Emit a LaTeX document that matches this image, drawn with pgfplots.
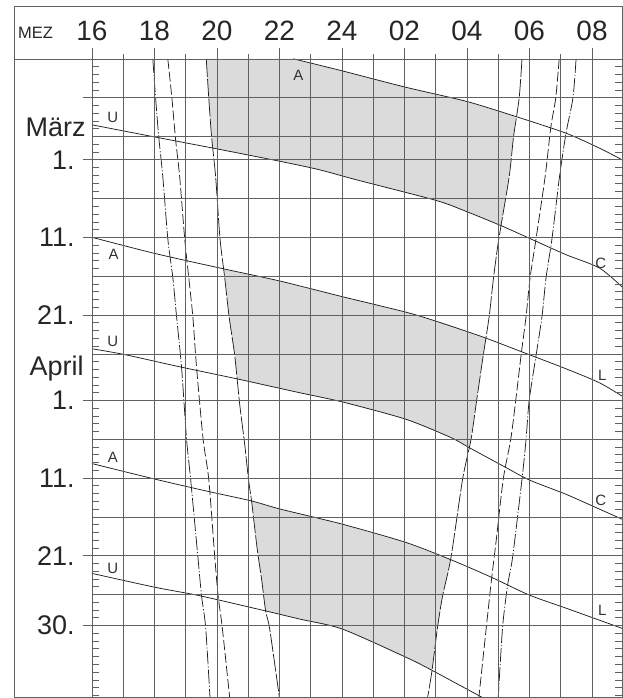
\documentclass[border=0pt]{standalone}
\usepackage{fontspec}
\setmainfont{Liberation Sans}
\usepackage{pgfplots}
\pgfplotsset{compat=1.18}
\definecolor{gridc}{gray}{0.38}
\definecolor{shade}{gray}{0.86}
\begin{document}
\begin{tikzpicture}
\begin{axis}[
  x=31.31pt, y=7.774pt, y dir=reverse,
  xmin=16, xmax=32.96, ymin=-13, ymax=69.3,
  clip=false, axis on top,
  axis line style={draw=gridc, line width=0.6pt},
  xtick={16,...,32},
  xticklabel pos=right,
  xticklabels={16,,18,,20,,22,,24,,02,,04,,06,,08},
  xticklabel style={font=\fontsize{28}{28}\selectfont, anchor=base, inner sep=0pt, yshift=18.3pt, text=black!85},
  ytick={-8,-3,0,5,10,15,20,25,31,36,41,46,51,56,60},
  yticklabels={,,{1.\llap{\raisebox{33pt}[0pt][0pt]{März}\kern-11pt}},,11.,,21.,,{1.\llap{\raisebox{34pt}[0pt][0pt]{April}\kern-9pt}},,11.,,21.,,30.},
  yticklabel style={font=\fontsize{27}{27}\selectfont, anchor=east, inner sep=0pt, xshift=-17pt, text=black!85},
  minor ytick={-12,...,69},
  major tick length=0pt, minor tick length=7pt, tick align=inside,
  minor tick style={gridc, line width=0.5pt},
  grid=major,
  major grid style={gridc, line width=0.55pt},
  curve/.style={black!88, line width=0.75pt, smooth, tension=0.45},
]
% dark, moonless periods (shaded)
\addplot[fill=shade, draw=none] coordinates {
 (19.66,-13) (22.45,-13) (24.01,-11.45) (26.03,-9.35) (28.00,-7.50) (29.57,-5.55)
 (29.49,-2.96) (29.35,2.19) (29.09,8.50) (27.97,6.65) (27.01,5.24) (24.45,2.57)
 (23.28,1.29) (22.04,0.22) (19.87,-1.51) (19.83,-2.96) (19.74,-7.98)} --cycle;
\addplot[fill=shade, draw=none] coordinates {
 (20.22,14.06) (22.04,15.65) (24.03,17.66) (26.05,19.64) (27.01,20.80) (27.97,22.09)
 (28.61,22.99) (28.52,25.21) (28.31,31.00) (28.07,37.09) (27.49,35.80) (26.05,33.44)
 (24.03,31.22) (22.64,30.01) (20.65,28.24) (20.57,25.21) (20.39,20.20) (20.25,15.18)} --cycle;
\addplot[fill=shade, draw=none] coordinates {
 (21.11,43.99) (22.04,45.02) (24.01,46.95) (26.05,49.31) (27.47,51.52) (27.22,56.21)
 (27.06,60.20) (26.88,65.80) (26.05,64.10) (24.01,60.46) (22.64,59.17) (21.55,58.12)
 (21.43,54.03) (21.29,50.17)} --cycle;
% moon curves
\addplot[curve] coordinates {(22.45,-13) (24.01,-11.45) (26.03,-9.35) (28.00,-7.50) (29.56,-5.57) (31.16,-3.43) (32.23,-1.51) (32.96,0)};
\addplot[curve] coordinates {(16,-4.50) (18.03,-2.92) (19.86,-1.51) (22.04,0.22) (23.28,1.29) (24.45,2.57) (27.01,5.24) (27.97,6.65) (29.14,8.58) (30.09,10.29) (31.16,12.22) (32.23,13.93) (32.96,16.38)};
\addplot[curve] coordinates {(16,9.99) (18.03,12.09) (20.22,14.06) (22.04,15.65) (24.03,17.66) (26.05,19.64) (27.01,20.80) (27.97,22.09) (28.66,23.06) (29.78,24.79) (31.16,26.92) (32.23,28.72) (32.96,30.45)};
\addplot[curve] coordinates {(16,24.35) (17.02,25.08) (18.86,26.72) (20.62,28.21) (22.64,30.01) (24.03,31.22) (26.05,33.44) (27.49,35.80) (28.07,37.09) (29.25,39.66) (29.99,41.25) (31.16,43.09) (32.12,44.80) (32.96,46.31)};
\addplot[curve] coordinates {(16,39.14) (18.03,41.16) (19.74,42.75) (21.10,43.95) (22.04,45.02) (24.01,46.95) (26.05,49.31) (27.49,51.54) (28.77,53.77) (29.99,56.08) (31.16,57.76) (32.96,60.37)};
\addplot[curve] coordinates {(16,53.29) (18.03,55.09) (19.45,56.17) (21.53,58.10) (22.64,59.17) (24.01,60.46) (26.05,64.10) (26.90,65.82) (28.50,69.3)};
% evening twilight lines
\addplot[curve, dash pattern=on 14pt off 2pt on 1.2pt off 2pt] coordinates {(17.95,-13) (18.04,-7.98) (18.14,-2.96) (18.27,2.19) (18.43,10.16) (18.59,15.18) (18.71,20.20) (18.87,26.76) (19.03,36.02) (19.16,41.16) (19.39,51.07) (19.51,56.21) (19.64,60.20) (19.78,69.3)};
\addplot[curve, dash pattern=on 10pt off 3pt] coordinates {(18.43,-13) (18.56,-7.98) (18.68,-2.57) (18.81,2.19) (18.97,10.16) (19.10,15.18) (19.23,20.20) (19.35,26.76) (19.56,36.02) (19.74,41.16) (19.93,51.07) (20.04,56.21) (20.17,60.20) (20.41,69.3)};
\addplot[curve, dash pattern=on 18pt off 2pt] coordinates {(19.66,-13) (19.74,-7.98) (19.83,-2.96) (19.96,2.19) (20.10,10.16) (20.25,15.18) (20.39,20.20) (20.57,25.21) (20.73,31.52) (20.89,36.66) (21.01,41.16) (21.11,43.99) (21.29,50.17) (21.43,54.03) (21.56,58.14) (21.69,60.46) (22.00,69.3)};
% morning twilight lines
\addplot[curve, dash pattern=on 18pt off 2pt] coordinates {(29.76,-13) (29.67,-7.98) (29.49,-2.96) (29.35,2.19) (29.02,10.16) (28.85,15.18) (28.71,20.20) (28.52,25.21) (28.31,31.00) (28.13,36.02) (27.86,41.16) (27.49,51.20) (27.22,56.21) (27.06,60.20) (26.88,65.86) (26.74,69.3)};
\addplot[curve, dash pattern=on 10pt off 3pt] coordinates {(30.95,-13) (30.84,-7.98) (30.68,-4.12) (30.50,2.19) (30.21,10.16) (30.02,15.18) (29.89,20.20) (29.73,25.21) (29.56,31.00) (29.40,36.02) (29.16,41.16) (28.94,48.88) (28.79,53.90) (28.63,59.81) (28.38,69.3)};
\addplot[curve, dash pattern=on 14pt off 2pt on 1.2pt off 2pt] coordinates {(31.49,-13) (31.39,-7.98) (31.17,-3.47) (30.96,2.19) (30.72,10.16) (30.53,15.18) (30.40,20.20) (30.21,25.21) (29.99,31.00) (29.89,36.02) (29.76,41.16) (29.46,51.20) (29.30,54.80) (29.14,60.20) (29.00,69.3)};
% curve labels
\begin{scope}[every node/.style={font=\fontsize{15}{15}\selectfont, text=black!80, inner sep=0pt}]
\node at (axis cs:22.61,-10.93) {A};
\node at (axis cs:16.67,-5.40) {U};
\node at (axis cs:16.70,12.22) {A};
\node at (axis cs:16.67,23.41) {U};
\node at (axis cs:16.67,38.33) {A};
\node at (axis cs:16.67,52.61) {U};
\node at (axis cs:32.28,13.29) {C};
\node at (axis cs:32.33,27.75) {L};
\node at (axis cs:32.28,43.86) {C};
\node at (axis cs:32.33,58.10) {L};
\end{scope}
% frame, header line, tick extensions
\draw[gridc, line width=0.6pt] (axis cs:13.509,-19.81) rectangle (axis cs:32.96,69.3);
\draw[gridc, line width=0.6pt] (axis cs:13.509,-13) -- (axis cs:16,-13);
\pgfplotsinvokeforeach{16,18,20,22,24,26,28,30,32}{\draw[gridc, line width=0.55pt] (axis cs:#1,-13) -- (axis cs:#1,-14.415);}
\pgfplotsinvokeforeach{17,19,21,23,25,27,29,31}{\draw[gridc, line width=0.55pt] (axis cs:#1,-13) -- (axis cs:#1,-13.643);}
\pgfplotsinvokeforeach{-8,0,10,20,31,41,51,60}{\draw[gridc, line width=0.55pt] (axis cs:16,#1) -- (axis cs:15.7126,#1);}
\node[anchor=base west, inner sep=0pt, font=\fontsize{16.5}{16.5}\selectfont, text=black!85] at (axis cs:13.637,-15.56) {MEZ};
\path (axis cs:13.062,-20.58) rectangle (axis cs:32.99,69.3);
\end{axis}
\end{tikzpicture}
\end{document}
